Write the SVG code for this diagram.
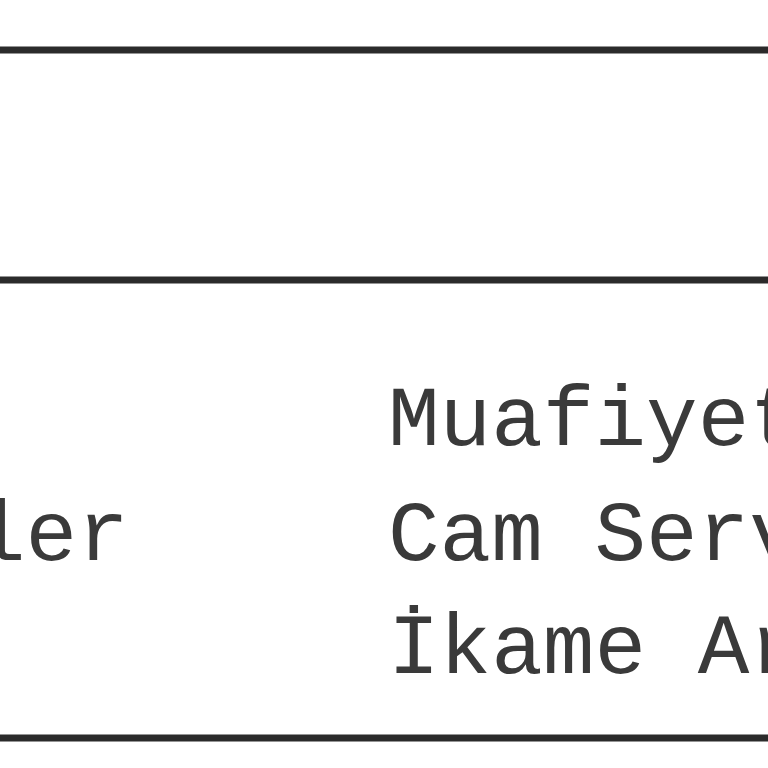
<svg xmlns="http://www.w3.org/2000/svg" width="768" height="768" viewBox="0 0 768 768">
<style>
.l{stroke:#2b2b2b;stroke-width:7}
.t{font-family:"Liberation Mono",monospace;font-size:86px;fill:#3a3a3a}
</style>
<rect width="768" height="768" fill="#fff"/>
<g id="lines">
<line class="l" x1="0" y1="50" x2="768" y2="50"/>
<line class="l" x1="0" y1="280" x2="768" y2="280"/>
<line class="l" x1="0" y1="738" x2="768" y2="738"/>
</g>
<g id="texts">
<text class="t" x="-26" y="560">ler</text>
<text class="t" x="388" y="445">Muafiyet</text>
<text class="t" x="388" y="560">Cam Serv</text>
<text class="t" x="388" y="673">İkame Ar</text>
</g>
</svg>
